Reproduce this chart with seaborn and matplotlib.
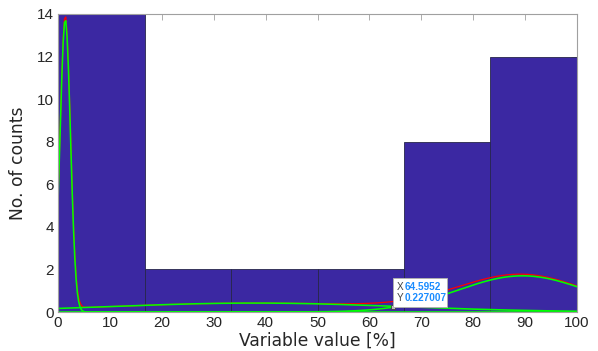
import numpy as np
import pandas as pd
import matplotlib
matplotlib.use("Agg")
import matplotlib.pyplot as plt
from matplotlib.patches import Rectangle
import seaborn as sns

# Histogram of the variable (6 equal bins over 0-100 %)
bin_edges = [0, 100 / 6, 200 / 6, 300 / 6, 400 / 6, 500 / 6, 100]
bin_counts = [14, 2, 2, 2, 8, 12]

# Fitted Gaussian components (scaled to counts): centre, spread, peak height
comp_mu = [1.4, 38.0, 89.5]
comp_sigma = [1.0, 28.0, 12.4]
comp_peak = [13.75, 0.42, 1.70]

# Data tip on the right-hand component
tip_x = 64.5952
tip_y = 0.227007

sns.set_theme(style="white")
plt.rcParams["font.family"] = ["Liberation Sans", "DejaVu Sans"]

fig = plt.figure(figsize=(5.98, 3.51), dpi=100)
ax = fig.add_axes([58 / 598, 1 - 312 / 351, (577 - 58) / 598, (312 - 14) / 351])

centres = [(bin_edges[i] + bin_edges[i + 1]) / 2 for i in range(len(bin_counts))]
hist_df = pd.DataFrame({"value": centres, "count": bin_counts})
sns.histplot(data=hist_df, x="value", weights="count", bins=bin_edges, ax=ax,
             color="#3b28a2", alpha=1.0, edgecolor="#26264a", linewidth=0.6)

xs = np.linspace(0, 100, 401)
comps = [p * np.exp(-(xs - m) ** 2 / (2 * s ** 2))
         for m, s, p in zip(comp_mu, comp_sigma, comp_peak)]
total = np.sum(comps, axis=0)

# mixture sum in red, individual components in green on top
sns.lineplot(x=xs, y=total, ax=ax, color="#ff0000", linewidth=0.9)
for c in comps:
    sns.lineplot(x=xs, y=c, ax=ax, color="#00ff00", linewidth=1.15)

ax.set_xlim(0, 100)
ax.set_ylim(0, 14)
ax.set_xticks(np.arange(0, 101, 10))
ax.set_yticks(np.arange(0, 15, 2))
ax.tick_params(axis="both", direction="in", length=4, width=0.6, color="#a0a0a0",
               labelsize=11, labelcolor="#262626", top=True, right=True, pad=3)
for sp in ax.spines.values():
    sp.set_visible(True)
    sp.set_color("#a0a0a0")
    sp.set_linewidth(0.8)

ax.set_xlabel("Variable value [%]", fontsize=12.3, color="#262626",
              family="DejaVu Sans", labelpad=1)
ax.set_ylabel("No. of counts", fontsize=12.3, color="#262626",
              family="DejaVu Sans", labelpad=7)

# Data tip marker and box (placed after the limits are fixed)
ax.plot([tip_x], [tip_y], marker="s", markersize=2.5, color="#404040",
        markerfacecolor="#c0c0c0", markeredgewidth=0.6, zorder=6)
x0_disp, y0_disp = ax.transData.transform((tip_x, tip_y))
fx0, fy0 = fig.transFigure.inverted().transform((x0_disp, y0_disp))
box_w, box_h = 54 / 598, 29 / 351
fig.patches.append(Rectangle((fx0, fy0), box_w, box_h, transform=fig.transFigure,
                             facecolor="white", edgecolor="#b0b0b0", linewidth=0.7,
                             zorder=7))
for row, (lab, val) in enumerate([("X", tip_x), ("Y", tip_y)]):
    yy = fy0 + (20.5 - 11.5 * row) / 351
    fig.text(fx0 + 3.5 / 598, yy, lab, fontsize=7.2, color="#404040",
             va="center", ha="left", zorder=8)
    fig.text(fx0 + 11.5 / 598, yy, f"{val:g}", fontsize=7.2, color="#1a8cff",
             fontweight="bold", va="center", ha="left", zorder=8)

fig.savefig("out.png", dpi=100)
